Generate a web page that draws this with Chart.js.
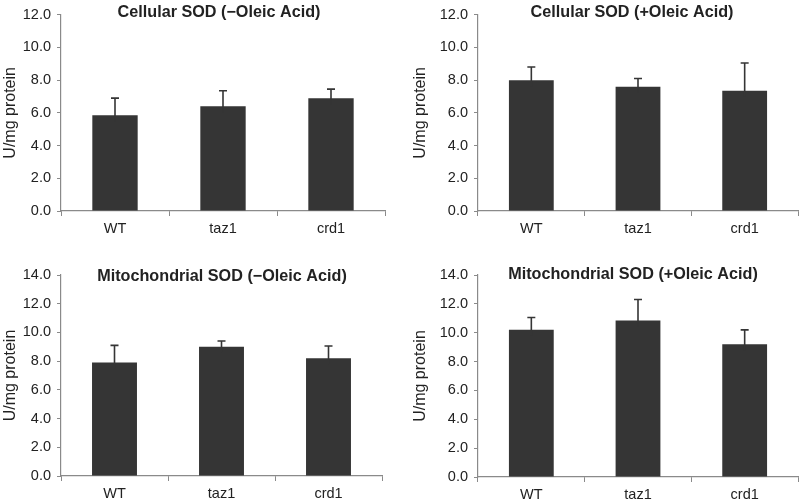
<!DOCTYPE html>
<html>
<head>
<meta charset="utf-8">
<script src="https://cdn.jsdelivr.net/npm/chart.js@4"></script>
<style>
html,body{margin:0;padding:0;background:#fff;}
#wrap{position:relative;width:800px;height:502px;overflow:hidden;}
.panel{position:absolute;}
</style>
</head>
<body>
<div id="wrap">
  <div class="panel" style="left:0;top:0;width:400px;height:250px;"><canvas id="c1"></canvas></div>
  <div class="panel" style="left:400px;top:0;width:400px;height:250px;"><canvas id="c2"></canvas></div>
  <div class="panel" style="left:0;top:250px;width:400px;height:252px;"><canvas id="c3"></canvas></div>
  <div class="panel" style="left:400px;top:250px;width:400px;height:252px;"><canvas id="c4"></canvas></div>
</div>
<script>
// ---- Data ----
const categories = ["WT", "taz1", "crd1"];
const yAxisLabel = "U/mg protein";

const titles = [
  "Cellular SOD (\u2212Oleic Acid)",
  "Cellular SOD (+Oleic Acid)",
  "Mitochondrial SOD (\u2212Oleic Acid)",
  "Mitochondrial SOD (+Oleic Acid)"
];

const cellularMinusOA    = [5.85, 6.4, 6.9];
const cellularMinusOAErr = [1.05, 0.95, 0.55];
const cellularPlusOA     = [8.0, 7.6, 7.35];
const cellularPlusOAErr  = [0.8, 0.5, 1.7];
const mitoMinusOA        = [7.9, 9.0, 8.2];
const mitoMinusOAErr     = [1.2, 0.4, 0.85];
const mitoPlusOA         = [10.2, 10.85, 9.2];
const mitoPlusOAErr      = [0.85, 1.45, 1.0];

const cellularMax = 12;
const mitoMax = 14;
const yStep = 2;

// ---- Styling ----
const FONT = "'Liberation Sans', Arial, Helvetica, sans-serif";
const BAR = "#353535";
const AXIS = "#8a8a8a";
const TEXT = "#222222";

const errorBarPlugin = {
  id: 'errorBars',
  afterDatasetsDraw(chart, args, opts) {
    const ctx = chart.ctx;
    const ys = chart.scales.y;
    chart.data.datasets.forEach((ds, di) => {
      const meta = chart.getDatasetMeta(di);
      meta.data.forEach((el, i) => {
        const v = ds.data[i], e = ds.errors[i];
        const yTop = ys.getPixelForValue(v + e);
        const yBase = ys.getPixelForValue(v);
        ctx.save();
        ctx.strokeStyle = opts.color;
        ctx.lineWidth = opts.lineWidth;
        ctx.beginPath();
        ctx.moveTo(el.x, yBase + 6);
        ctx.lineTo(el.x, yTop);
        ctx.moveTo(el.x - opts.cap / 2, yTop);
        ctx.lineTo(el.x + opts.cap / 2, yTop);
        ctx.stroke();
        ctx.restore();
      });
    });
  }
};

const panelTitlePlugin = {
  id: 'panelTitle',
  afterDraw(chart, args, opts) {
    const ctx = chart.ctx;
    ctx.save();
    ctx.font = opts.font;
    ctx.fillStyle = opts.color;
    ctx.textAlign = 'center';
    ctx.textBaseline = 'middle';
    ctx.fillText(opts.text, opts.x, opts.y);
    ctx.restore();
  }
};

function makeChart(id, title, values, errors, yMax, L, padLeft, top, padRight, padBottom, titleX, titleY) {
  new Chart(document.getElementById(id), {
    type: 'bar',
    data: {
      labels: categories,
      datasets: [{
        data: values,
        errors: errors,
        backgroundColor: BAR,
        borderColor: BAR,
        borderWidth: 0,
        barPercentage: 0.84,
        categoryPercentage: 0.5
      }]
    },
    options: {
      responsive: true,
      maintainAspectRatio: false,
      animation: false,
      events: [],
      layout: { padding: { left: padLeft, top: top, right: padRight, bottom: padBottom } },
      plugins: {
        legend: { display: false },
        tooltip: { enabled: false },
        title: { display: false },
        errorBars: { color: BAR, lineWidth: 1.6, cap: 8 },
        panelTitle: { text: title, x: titleX, y: titleY, color: TEXT, font: "bold 16.2px " + FONT }
      },
      scales: {
        x: {
          offset: true,
          grid: { display: true, offset: true, drawOnChartArea: false, drawTicks: true, tickLength: 5, color: AXIS, lineWidth: 1 },
          border: { display: true, color: AXIS, width: 1.2 },
          ticks: { color: TEXT, font: { family: FONT, size: 14.5 }, padding: 4, maxRotation: 0 },
          afterFit(scale) { scale.height = 24; }
        },
        y: {
          min: 0,
          max: yMax,
          grid: { display: true, drawOnChartArea: false, drawTicks: true, tickLength: 4, color: AXIS, lineWidth: 1 },
          border: { display: true, color: AXIS, width: 1.2 },
          ticks: { stepSize: yStep, color: TEXT, font: { family: FONT, size: 14.5 }, padding: 6,
                   callback: (v) => Number(v).toFixed(1) },
          title: { display: true, text: yAxisLabel, color: TEXT, font: { family: FONT, size: 16 }, padding: { top: 1, bottom: 0 } },
          afterFit(scale) { scale.width = L; }
        }
      }
    },
    plugins: [errorBarPlugin, panelTitlePlugin]
  });
}

// canvas 400x250: chartArea left=61,right=385,top=9,bottom=211
makeChart('c1', titles[0], cellularMinusOA, cellularMinusOAErr, cellularMax, 61, 0, 9, 15, 15, 219, 13);
// chartArea left=78,right=398,top=9,bottom=211
makeChart('c2', titles[1], cellularPlusOA, cellularPlusOAErr, cellularMax, 68, 10, 9, 2, 15, 632 - 400, 13);
// canvas 400x252: chartArea left=61,right=382,top=25,bottom=226
makeChart('c3', titles[2], mitoMinusOA, mitoMinusOAErr, mitoMax, 61, 0, 25, 18, 2, 222, 27);
// chartArea left=78,right=398,top=25,bottom=227
makeChart('c4', titles[3], mitoPlusOA, mitoPlusOAErr, mitoMax, 68, 10, 25, 2, 1, 233, 25);
</script>
</body>
</html>
